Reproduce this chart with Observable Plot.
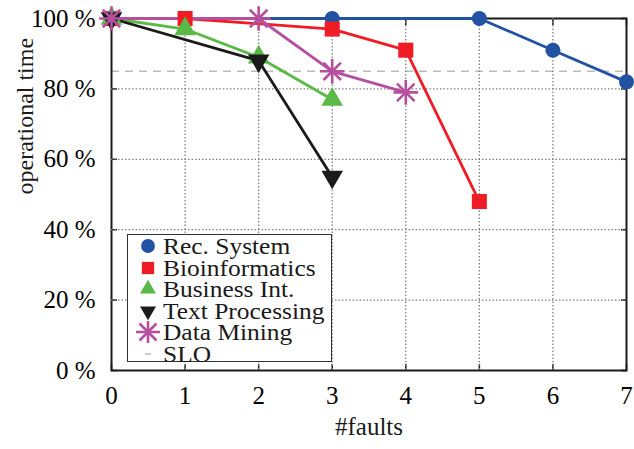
<!DOCTYPE html>
<html><head><meta charset="utf-8">
<script src="https://cdn.jsdelivr.net/npm/d3@7"></script>
<script src="https://cdn.jsdelivr.net/npm/@observablehq/plot@0.6"></script>
<style>
body{margin:0;background:#fff;}
#wrap{position:relative;width:634px;height:449px;font-family:"Liberation Serif","Times New Roman",serif;}
#legend{position:absolute;left:127px;top:234px;width:205px;height:128px;border:1.2px solid #333;background:#fff;box-sizing:border-box;}
.row{position:absolute;left:0;height:22px;line-height:22px;font-size:24px;color:#1a1a1a;white-space:nowrap;}
.row svg{position:absolute;left:8px;top:0;}
.row span{position:absolute;left:35px;top:0;display:inline-block;transform:scaleX(1.06);transform-origin:left center;}
</style></head><body><div id="wrap"></div>
<script>
// Data
const xTicks = [0, 1, 2, 3, 4, 5, 6, 7];
const yTicks = [0, 20, 40, 60, 80, 100];
const seriesNames = ["Rec. System", "Bioinformatics", "Business Int.", "Text Processing", "Data Mining"];
const recX = [0, 3, 5, 6, 7];
const recY = [100, 100, 100, 91, 82];
const bioX = [0, 1, 3, 4, 5];
const bioY = [100, 100, 97, 91, 48];
const busX = [0, 1, 2, 3];
const busY = [100, 97, 89, 77];
const txtX = [0, 2, 3];
const txtY = [100, 88, 55];
const dmX = [0, 2, 3, 4];
const dmY = [100, 100, 85, 79];
const sloValue = 85;
const sloLabel = "SLO";

const colors = ["#2152a3", "#ee1c25", "#5bb947", "#1a1a1a", "#b5509f"];
const toRows = (xs, ys) => xs.map((x, i) => ({x, y: ys[i]}));
const rec = toRows(recX, recY), bio = toRows(bioX, bioY), bus = toRows(busX, busY),
      txt = toRows(txtX, txtY), dm = toRows(dmX, dmY);

const lw = 2.8;
const font = '"Liberation Serif","Times New Roman",serif';
const gridOpts = {stroke: "#808080", strokeWidth: 1.3, strokeDasharray: "1.5,2"};
const chart = Plot.plot({
  width: 634, height: 449,
  marginLeft: 111, marginRight: 8, marginTop: 18, marginBottom: 79,
  style: {fontFamily: font},
  x: {domain: [0, 7]},
  y: {domain: [0, 100]},
  marks: [
    Plot.ruleY([sloValue], {stroke: "#bbb", strokeWidth: 1.5, strokeDasharray: "8,6"}),
    Plot.frame({stroke: "#1a1a1a", strokeWidth: 2}),
    Plot.axisY(yTicks, {tickSize: -6, stroke: "#1a1a1a", strokeWidth: 1.5, tickPadding: 22, fontSize: 25, fontFamily: font, tickFormat: d => d + " %", label: null}),
    Plot.axisY(yTicks, {anchor: "right", tickSize: -6, stroke: "#1a1a1a", strokeWidth: 1.5, tickFormat: () => "", label: null}),
    Plot.axisX(xTicks, {tickSize: -6, stroke: "#1a1a1a", strokeWidth: 1.5, tickPadding: 22, fontSize: 25, fontFamily: font, label: null}),
    Plot.axisX(xTicks, {anchor: "top", tickSize: -6, stroke: "#1a1a1a", strokeWidth: 1.5, tickFormat: () => "", label: null}),
    Plot.ruleY(yTicks.slice(1, -1), gridOpts),
    Plot.ruleX(xTicks.slice(1, -1), {...gridOpts}),
    Plot.line(rec, {x: "x", y: "y", stroke: colors[0], strokeWidth: lw}),
    Plot.line(bio, {x: "x", y: "y", stroke: colors[1], strokeWidth: lw}),
    Plot.line(bus, {x: "x", y: "y", stroke: colors[2], strokeWidth: lw}),
    Plot.line(txt, {x: "x", y: "y", stroke: colors[3], strokeWidth: lw}),
    Plot.line(dm, {x: "x", y: "y", stroke: colors[4], strokeWidth: lw}),
    Plot.dot(rec, {x: "x", y: "y", symbol: "circle", fill: colors[0], r: 7.5}),
    Plot.dot(bio, {x: "x", y: "y", symbol: "square", fill: colors[1], r: 8.5}),
    Plot.dot(bus, {x: "x", y: "y", symbol: "triangle", fill: colors[2], r: 8}),
    Plot.dot(txt, {x: "x", y: "y", symbol: "triangle", fill: colors[3], r: 8, rotate: 180}),
    Plot.dot(dm, {x: "x", y: "y", symbol: "plus", stroke: colors[4], strokeWidth: 2.6, r: 8}),
    Plot.dot(dm, {x: "x", y: "y", symbol: "times", stroke: colors[4], strokeWidth: 2.6, r: 8}),
    Plot.text(["operational time"], {frameAnchor: "left", dx: -86, rotate: -90, fontSize: 24, fontFamily: font, fill: "#1a1a1a"}),
    Plot.text(["#faults"], {frameAnchor: "bottom", dy: 64, fontSize: 25, fontFamily: font, fill: "#1a1a1a"})
  ]
});
document.getElementById("wrap").appendChild(chart);

// Legend overlay
const legend = document.createElement("div");
legend.id = "legend";
const symTypes = [d3.symbolCircle, d3.symbolSquare, d3.symbolTriangle, d3.symbolTriangle, null];
const symSizes = [150, 150, 110, 110, 0];
const items = [...seriesNames, sloLabel];
items.forEach((name, i) => {
  const row = document.createElement("div");
  row.className = "row";
  row.style.top = (i * 21.5) + "px";
  let shape = "";
  if (i < 4) {
    const rot = i === 3 ? ' transform="rotate(180)"' : "";
    shape = `<path d="${d3.symbol(symTypes[i], symSizes[i])()}" fill="${colors[i]}"${rot}/>`;
  } else if (i === 4) {
    shape = `<path d="${d3.symbol(d3.symbolPlus, 190)()}" stroke="${colors[4]}" stroke-width="2.6" fill="none"/>` +
            `<path d="${d3.symbol(d3.symbolTimes, 190)()}" stroke="${colors[4]}" stroke-width="2.6" fill="none"/>`;
  } else {
    shape = `<line x1="-3" x2="3" y1="0" y2="0" stroke="#bbb" stroke-width="1.5"/>`;
  }
  row.innerHTML = `<svg width="24" height="22"><g transform="translate(12,11)">${shape}</g></svg><span>${name}</span>`;
  legend.appendChild(row);
});
document.getElementById("wrap").appendChild(legend);
</script></body></html>
